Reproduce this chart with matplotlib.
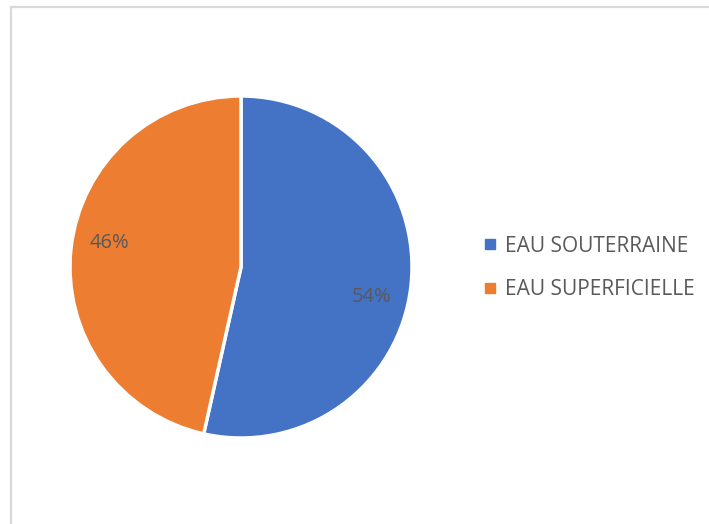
import matplotlib.pyplot as plt
from matplotlib.patches import Rectangle
from matplotlib.lines import Line2D

labels = ["EAU SOUTERRAINE", "EAU SUPERFICIELLE"]
values = [53.5, 46.5]
colors = ["#4472C4", "#ED7D31"]

plt.rcParams['font.family'] = ['Open Sans', 'DejaVu Sans']

fig = plt.figure(figsize=(7.09, 5.24), dpi=100)

# light frame around the chart area
fig.patches.append(Rectangle((11/709, -0.05), 1.0, (524-7)/524 + 0.05, transform=fig.transFigure,
                             fill=False, edgecolor="#d9d9d9", linewidth=1.6))

ax = fig.add_axes([(241-171)/709, (524-438)/524, 342/709, 342/524])
wedges, texts, autotexts = ax.pie(values, colors=colors, startangle=90, counterclock=False,
                                  autopct=lambda p: f"{round(p)}%", pctdistance=0.78,
                                  wedgeprops=dict(edgecolor="white", linewidth=2.5),
                                  textprops=dict(color="#595959", fontsize=14.5))
# data labels as placed in the original
autotexts[0].set_position((0.766, -0.175))
autotexts[1].set_position((-0.772, 0.14))
ax.set_xlim(-1, 1)
ax.set_ylim(-1, 1)
ax.set_aspect("equal")

handles = [Line2D([], [], marker="s", linestyle="", markersize=7, color=c) for c in colors]
fig.legend(handles, labels, loc="center left", bbox_to_anchor=(466/709, 1 - 268/524),
           frameon=False, fontsize=15, labelcolor="#595959", handlelength=0.5,
           handletextpad=0.45, labelspacing=1.1)

fig.savefig("out.png", dpi=100)
